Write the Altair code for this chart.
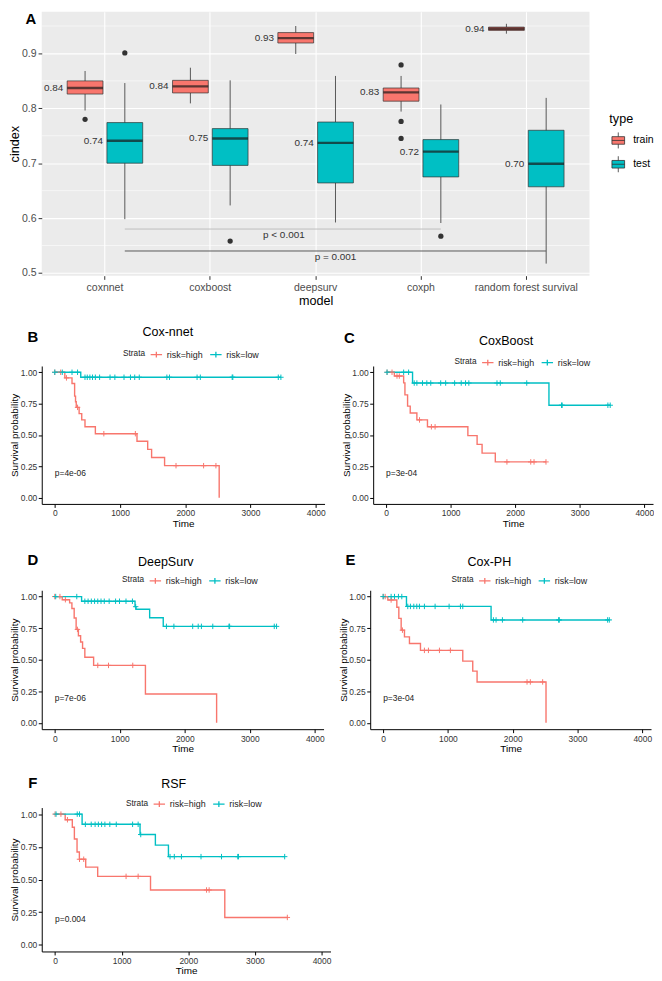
import altair as alt
import pandas as pd

FONT = "Liberation Sans"
RED = "#F8766D"
TEAL = "#00BFC4"

# ---------------- Panel A data: C-index boxplots ----------------
models = ["coxnnet", "coxboost", "deepsurv", "coxph", "random forest survival"]
types = ["train", "test"]

box_model = ["coxnnet", "coxnnet", "coxboost", "coxboost", "deepsurv", "deepsurv",
             "coxph", "coxph", "random forest survival", "random forest survival"]
box_type = ["train", "test"] * 5
box_lower = [0.796, 0.598, 0.809, 0.623, 0.899, 0.592, 0.794, 0.591, 0.936, 0.517]
box_q1 = [0.826, 0.700, 0.828, 0.696, 0.919, 0.664, 0.813, 0.675, 0.942, 0.657]
box_median = [0.837, 0.741, 0.840, 0.745, 0.928, 0.737, 0.829, 0.721, 0.945, 0.699]
box_q3 = [0.850, 0.774, 0.851, 0.763, 0.938, 0.775, 0.837, 0.743, 0.948, 0.760]
box_upper = [0.868, 0.846, 0.874, 0.851, 0.950, 0.859, 0.859, 0.807, 0.954, 0.819]
box_label = ["0.84", "0.74", "0.84", "0.75", "0.93", "0.74", "0.83", "0.72", "0.94", "0.70"]

out_model = ["coxnnet", "coxnnet", "coxboost", "coxph", "coxph", "coxph", "coxph"]
out_type = ["train", "test", "test", "train", "train", "train", "test"]
out_value = [0.780, 0.901, 0.558, 0.879, 0.776, 0.745, 0.567]

sig_start = ["coxnnet", "coxnnet"]
sig_end = ["coxph", "random forest survival"]
sig_mid = ["deepsurv", "deepsurv"]
sig_y = [0.580, 0.540]
sig_text = ["p < 0.001", "p = 0.001"]
sig_text_y = [0.570, 0.529]

minor_grid = [0.55, 0.65, 0.75, 0.85, 0.95]
a_yticks = [0.5, 0.6, 0.7, 0.8, 0.9]

# ---------------- Kaplan-Meier data ----------------
strata = ["risk=high", "risk=low"]
km_xticks = [0, 1000, 2000, 3000, 4000]
km_yticks = [0, 0.25, 0.5, 0.75, 1.0]

b_high_time = [0, 154, 264, 304, 318, 329, 373, 413, 463, 622, 1260, 1424, 1484, 1683, 2520]
b_high_surv = [1, 0.955, 0.91, 0.81, 0.765, 0.72, 0.67, 0.62, 0.565, 0.51, 0.45, 0.385, 0.32, 0.255, 0.0]
b_high_cens = [0, 90, 179, 349, 752, 1235, 1858, 2281, 2470]
b_low_time = [0, 398]
b_low_surv = [1, 0.96]
b_low_cens = [0, 115, 264, 349, 463, 498, 538, 578, 622, 687, 847, 921, 1061, 1160, 1225, 1295,
              1718, 1758, 2181, 2231, 2719, 2729, 3426, 3466]

c_high_time = [0, 128, 272, 292, 333, 374, 477, 641, 1267, 1410, 1487, 1692]
c_high_surv = [1, 0.97, 0.915, 0.82, 0.73, 0.675, 0.62, 0.565, 0.495, 0.425, 0.355, 0.285]
c_high_cens = [15, 92, 169, 205, 518, 702, 759, 1872, 2241, 2292, 2477]
c_low_time = [0, 410, 2523]
c_low_surv = [1, 0.914, 0.737]
c_low_cens = [15, 272, 349, 436, 477, 564, 631, 692, 846, 923, 1062, 1164, 1231, 1282, 1718, 1769,
              2179, 2718, 2728, 3436, 3472]

d_high_time = [0, 115, 229, 264, 299, 329, 364, 398, 428, 463, 598, 1395, 2490]
d_high_surv = [1, 0.975, 0.95, 0.905, 0.83, 0.74, 0.69, 0.64, 0.59, 0.52, 0.455, 0.228, 0.0]
d_high_cens = [0, 80, 164, 349, 662, 827, 1200]
d_low_time = [0, 413, 1235, 1250, 1460, 1669]
d_low_surv = [1, 0.963, 0.92, 0.90, 0.832, 0.764]
d_low_cens = [15, 339, 463, 513, 563, 613, 662, 712, 762, 837, 936, 996, 1096, 1195, 1245, 1718,
              1833, 2122, 2207, 2256, 2431, 2680, 2690, 3377, 3412]

e_high_time = [0, 72, 211, 242, 278, 329, 406, 576, 1229, 1383, 1450, 2514]
e_high_surv = [1, 0.973, 0.915, 0.827, 0.734, 0.681, 0.628, 0.574, 0.489, 0.41, 0.324, 0.0]
e_high_cens = [0, 31, 123, 298, 637, 699, 869, 1038, 2221, 2272, 2462]
e_low_time = [0, 360, 1666]
e_low_surv = [1, 0.922, 0.815]
e_low_cens = [0, 123, 175, 236, 288, 380, 421, 473, 519, 560, 637, 802, 1018, 1193, 1229, 1702,
              1743, 1841, 2154, 2709, 2719, 3465, 3491]

f_high_time = [0, 152, 259, 290, 330, 365, 460, 640, 1433, 2548]
f_high_surv = [1, 0.957, 0.90, 0.81, 0.71, 0.655, 0.595, 0.524, 0.42, 0.21]
f_high_cens = [0, 88, 186, 367, 430, 1066, 1247, 2274, 2313, 3487]
f_low_time = [0, 406, 1276, 1506, 1702]
f_low_surv = [1, 0.922, 0.844, 0.763, 0.675]
f_low_cens = [15, 333, 367, 455, 543, 601, 650, 699, 748, 822, 919, 1164, 1247, 1286, 1726, 1790,
              1897, 2191, 2499, 2743, 2753, 3447]

panel_letters = ["B", "C", "D", "E", "F"]
panel_names = ["Cox-nnet", "CoxBoost", "DeepSurv", "Cox-PH", "RSF"]
panel_pvals = ["p=4e-06", "p=3e-04", "p=7e-06", "p=3e-04", "p=0.004"]
pval_time = [0, 0, 0, 0, 0]
pval_surv = [0.2, 0.2, 0.2, 0.2, 0.2]


# ---------------- Panel A chart ----------------
def panel_a():
    W, H = 552, 266
    df_box = pd.DataFrame({"model": box_model, "type": box_type, "lower": box_lower, "q1": box_q1,
                           "median": box_median, "q3": box_q3, "upper": box_upper, "label": box_label})
    df_out = pd.DataFrame({"model": out_model, "type": out_type, "value": out_value})
    df_sig = pd.DataFrame({"start": sig_start, "end": sig_end, "mid": sig_mid, "y": sig_y,
                           "text": sig_text, "ty": sig_text_y})
    df_minor = pd.DataFrame({"y": minor_grid})

    x_scale = alt.Scale(domain=models, paddingInner=0, paddingOuter=0.1)
    x_axis = alt.Axis(title="model", grid=True, gridColor="white", gridWidth=1.1, domain=False,
                      tickColor="#333333", tickSize=3.7, tickWidth=1, labelColor="#4D4D4D",
                      labelFontSize=10.6, labelAngle=0, labelPadding=3, titleFontSize=12.7,
                      titleFontWeight="normal", titleColor="black", titlePadding=2)
    y_scale = alt.Scale(domain=[0.495, 0.976], nice=False, zero=False)
    y_axis = alt.Axis(title="cindex", values=a_yticks, format=".1f", grid=True, gridColor="white",
                      gridWidth=1.1, domain=False, tickColor="#333333", tickSize=3.7, tickWidth=1,
                      labelColor="#4D4D4D", labelFontSize=10.6, labelPadding=2, titleFontSize=12.7,
                      titleFontWeight="normal", titleColor="black", titlePadding=0)

    def X(f):
        return alt.X(f"{f}:N", scale=x_scale, axis=x_axis, sort=models)

    def Y(f):
        return alt.Y(f"{f}:Q", scale=y_scale, axis=y_axis)

    xo = alt.XOffset("type:N", sort=types,
                     scale=alt.Scale(domain=types, paddingInner=0.1, paddingOuter=0.375))

    minor = alt.Chart(df_minor).mark_rule(color="white", strokeWidth=0.55).encode(y=Y("y"))
    whisk = alt.Chart(df_box).mark_rule(color="#333333", strokeWidth=0.8).encode(
        x=X("model"), xOffset=xo, y=Y("lower"), y2="upper")
    boxes = alt.Chart(df_box).mark_bar(stroke="#333333", strokeWidth=0.7).encode(
        x=X("model"), xOffset=xo, y=Y("q1"), y2="q3",
        color=alt.Color("type:N", scale=alt.Scale(domain=types, range=[RED, TEAL]),
                        legend=alt.Legend(orient="none", legendX=572, legendY=102, title="type",
                                          titleFontSize=12.7, titleFontWeight="normal",
                                          titleColor="black", labelFontSize=10.6,
                                          labelColor="black", titlePadding=6, rowPadding=4,
                                          symbolType="M-0.75,-0.45H0.75V0.45H-0.75ZM-0.75,0H0.75M0,-0.45V-0.95M0,0.45V0.95",
                                          symbolSize=289, symbolStrokeColor="#333333",
                                          symbolStrokeWidth=0.8, symbolOpacity=1, labelOffset=6)))
    med = alt.Chart(df_box).mark_tick(color="#1a1a1a", thickness=2.4, size=36).encode(
        x=X("model"), xOffset=xo, y=Y("median"))
    outl = alt.Chart(df_out).mark_circle(color="#333333", size=28, opacity=1).encode(
        x=X("model"), xOffset=xo, y=Y("value"))
    labels = alt.Chart(df_box).mark_text(align="right", baseline="middle", dx=-22, fontSize=10,
                                         color="#333333").encode(
        x=X("model"), xOffset=xo, y=Y("median"), text="label:N")

    sig_layers = []
    sig_colors = ["#BDBDBD", "#595959"]
    sig_dx = [-32, 20]
    for i in range(len(sig_text)):
        d = df_sig.iloc[[i]]
        sig_layers.append(alt.Chart(d).mark_rule(color=sig_colors[i], strokeWidth=1, xOffset=20,
                                                 x2Offset=20).encode(x=X("start"), x2="end", y=Y("y")))
        sig_layers.append(alt.Chart(d).mark_text(fontSize=10, color="#333333", dx=sig_dx[i],
                                                 baseline="middle").encode(
            x=X("mid"), y=Y("ty"), text="text:N"))

    letter = alt.Chart(pd.DataFrame({"t": ["A"]})).mark_text(
        fontSize=15, fontWeight="bold", color="black", align="center", baseline="middle").encode(
        x=alt.value(-11), y=alt.value(7.5), text="t:N")

    return alt.layer(minor, whisk, boxes, med, outl, labels, *sig_layers, letter).properties(
        width=W, height=H, view=alt.ViewBackground(fill="#EBEBEB", stroke="transparent"))


# ---------------- KM chart ----------------
def surv_at(times, survs, t):
    s = survs[0]
    for ti, si in zip(times, survs):
        if ti <= t:
            s = si
    return s


def panel_km(idx, hi, lo, w, h, st):
    line_rows, cens_rows = [], []
    for grp, (times, survs, cens) in zip(strata, [hi, lo]):
        for t, s in zip(times, survs):
            line_rows.append({"time": t, "surv": s, "strata": grp})
        end = max(times[-1], max(cens))
        line_rows.append({"time": end, "surv": surv_at(times, survs, end), "strata": grp})
        for c in cens:
            cens_rows.append({"time": c, "surv": surv_at(times, survs, c), "strata": grp})
    df_line = pd.DataFrame(line_rows)
    df_cens = pd.DataFrame(cens_rows)

    x = alt.X("time:Q", scale=alt.Scale(domain=[-200, 4135], nice=False, zero=False),
              axis=alt.Axis(title="Time", values=km_xticks, format="d", grid=False,
                            domainColor="black", domainWidth=1, tickColor="black", tickSize=3.5,
                            tickWidth=1, labelFontSize=8.5, labelColor="#333333", labelPadding=1.5,
                            titleFontSize=10, titleFontWeight="normal", titleColor="black",
                            titlePadding=1))
    y = alt.Y("surv:Q", scale=alt.Scale(domain=[-0.05, 1.05], nice=False, zero=False),
              axis=alt.Axis(title="Survival probability", values=km_yticks, format=".2f", grid=False,
                            domainColor="black", domainWidth=1, tickColor="black", tickSize=3.5,
                            tickWidth=1, labelFontSize=8.5, labelColor="#333333", labelPadding=1.5,
                            titleFontSize=10, titleFontWeight="normal", titleColor="black",
                            titlePadding=0.5))
    color = alt.Color("strata:N", scale=alt.Scale(domain=strata, range=[RED, TEAL]),
                      legend=alt.Legend(orient="none", legendX=st["lx"], legendY=st["ly"],
                                        direction="horizontal", title="Strata", titleOrient="left",
                                        titleFontSize=8.3, titleFontWeight="normal", titleColor="#222222",
                                        titlePadding=4, labelFontSize=9, labelColor="#222222",
                                        symbolType="M-1,0H1M0,-0.5V0.5", symbolSize=132,
                                        symbolStrokeWidth=1.3, symbolFillColor="transparent",
                                        columnPadding=4, labelOffset=4, padding=0))

    line = alt.Chart(df_line).mark_line(interpolate="step-after", strokeWidth=1.4).encode(
        x=x, y=y, color=color)
    cens = alt.Chart(df_cens).mark_point(shape="M-1,0H1M0,-1V1", size=30, filled=False,
                                         strokeWidth=1, opacity=1).encode(x=x, y=y, color=color)
    pv = alt.Chart(pd.DataFrame({"time": [pval_time[idx]], "surv": [pval_surv[idx]],
                                 "label": [panel_pvals[idx]]})).mark_text(
        align="left", baseline="middle", fontSize=8.5, color="#222222").encode(
        x=x, y=y, text="label:N")
    letter = alt.Chart(pd.DataFrame({"t": [panel_letters[idx]]})).mark_text(
        fontSize=15, fontWeight="bold", color="black", align="center", baseline="middle").encode(
        x=alt.value(st["bx"]), y=alt.value(st["by"]), text="t:N")
    title = alt.Chart(pd.DataFrame({"t": [panel_names[idx]]})).mark_text(
        fontSize=12.6, color="black", align="center", baseline="middle").encode(
        x=alt.value(st["tx"]), y=alt.value(st["ty"]), text="t:N")
    return alt.layer(line, cens, pv, letter, title).properties(
        width=w, height=h, view=alt.ViewBackground(fill="white", stroke="transparent"))


styles = [
    dict(bx=-9, by=-29, tx=127, ty=-34, lx=82, ly=-18),
    dict(bx=-24, by=-28, tx=134, ty=-25, lx=82, ly=-10),
    dict(bx=-9, by=-30, tx=125, ty=-28, lx=81, ly=-16),
    dict(bx=-20, by=-30, tx=120, ty=-28, lx=82, ly=-16),
    dict(bx=-9, by=-25, tx=133, ty=-24, lx=85, ly=-10),
]

pB = panel_km(0, (b_high_time, b_high_surv, b_high_cens), (b_low_time, b_low_surv, b_low_cens), 285, 139, styles[0])
pC = panel_km(1, (c_high_time, c_high_surv, c_high_cens), (c_low_time, c_low_surv, c_low_cens), 282, 139, styles[1])
pD = panel_km(2, (d_high_time, d_high_surv, d_high_cens), (d_low_time, d_low_surv, d_low_cens), 284, 140, styles[2])
pE = panel_km(3, (e_high_time, e_high_surv, e_high_cens), (e_low_time, e_low_surv, e_low_cens), 283, 140, styles[3])
pF = panel_km(4, (f_high_time, f_high_surv, f_high_cens), (f_low_time, f_low_surv, f_low_cens), 291, 145, styles[4])


def indep(c):
    return c.resolve_scale(color="independent").resolve_legend(color="independent")


row1 = indep(alt.hconcat(pB, pC, spacing=49, bounds="flush"))
row2 = indep(alt.hconcat(pD, pE, spacing=47, bounds="flush"))
lower2 = indep(alt.vconcat(row2, pF, spacing=22))
lower1 = indep(alt.vconcat(row1, lower2, spacing=25))
chart = indep(alt.vconcat(panel_a(), lower1, spacing=19)).properties(
    padding=0, background="white"
).configure(font=FONT).configure_view(strokeWidth=0)

chart.save("out.html", embed_options={"renderer": "svg", "actions": False})
